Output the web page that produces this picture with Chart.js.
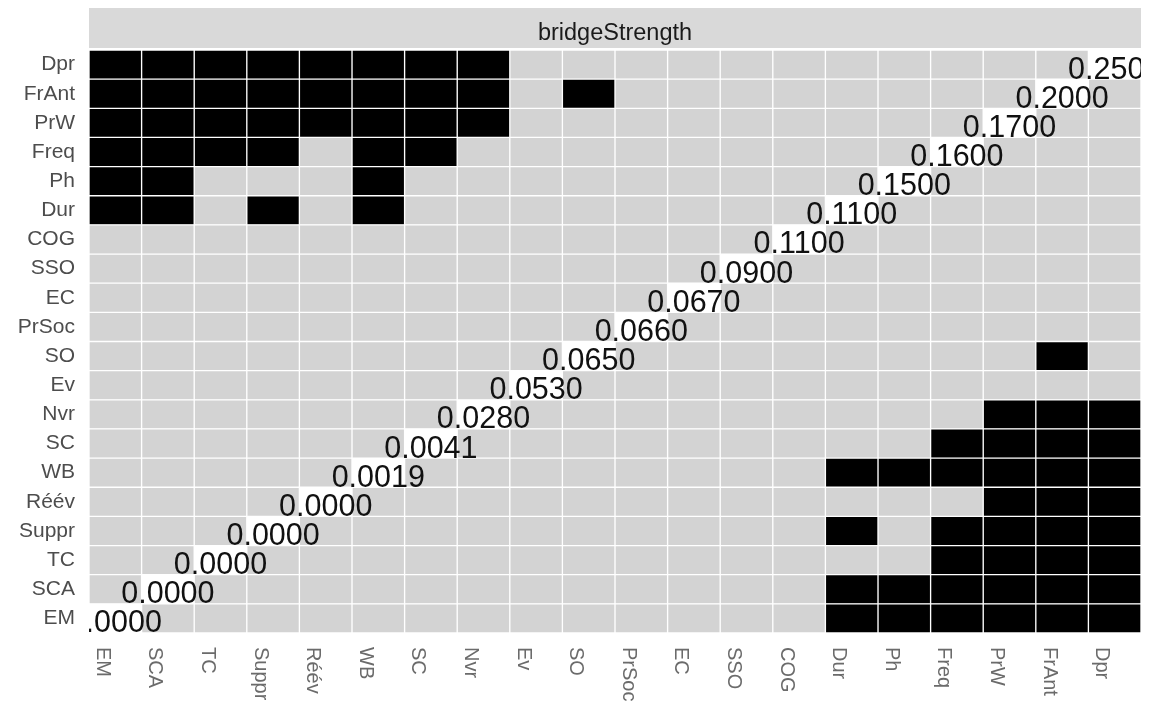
<!DOCTYPE html>
<html>
<head>
<meta charset="utf-8">
<script src="https://cdn.jsdelivr.net/npm/chart.js@4/dist/chart.umd.min.js"></script>
<style>
  html, body { margin: 0; padding: 0; background: #fff; }
  #wrap { width: 1154px; height: 704px; }
</style>
</head>
<body>
<div id="wrap"><canvas id="c" width="1154" height="704"></canvas></div>
<script>
// rows top -> bottom, columns left -> right
const rowNames = ['Dpr', 'FrAnt', 'PrW', 'Freq', 'Ph', 'Dur', 'COG', 'SSO', 'EC', 'PrSoc',
                  'SO', 'Ev', 'Nvr', 'SC', 'WB', 'Réév', 'Suppr', 'TC', 'SCA', 'EM'];
const colNames = ['EM', 'SCA', 'TC', 'Suppr', 'Réév', 'WB', 'SC', 'Nvr', 'Ev', 'SO',
                  'PrSoc', 'EC', 'SSO', 'COG', 'Dur', 'Ph', 'Freq', 'PrW', 'FrAnt', 'Dpr'];

// bridge strength per node (in column order)
const bridgeValues = ['0.0000', '0.0000', '0.0000', '0.0000', '0.0000', '0.0019', '0.0041', '0.0280', '0.0530', '0.0650',
                      '0.0660', '0.0670', '0.0900', '0.1100', '0.1100', '0.1500', '0.1600', '0.1700', '0.2000', '0.2500'];

// 1 = significant difference (black cell)
const diffMatrix = [
  [1,1,1,1,1,1,1,1,0,0,0,0,0,0,0,0,0,0,0,0], // Dpr
  [1,1,1,1,1,1,1,1,0,1,0,0,0,0,0,0,0,0,0,0], // FrAnt
  [1,1,1,1,1,1,1,1,0,0,0,0,0,0,0,0,0,0,0,0], // PrW
  [1,1,1,1,0,1,1,0,0,0,0,0,0,0,0,0,0,0,0,0], // Freq
  [1,1,0,0,0,1,0,0,0,0,0,0,0,0,0,0,0,0,0,0], // Ph
  [1,1,0,1,0,1,0,0,0,0,0,0,0,0,0,0,0,0,0,0], // Dur
  [0,0,0,0,0,0,0,0,0,0,0,0,0,0,0,0,0,0,0,0], // COG
  [0,0,0,0,0,0,0,0,0,0,0,0,0,0,0,0,0,0,0,0], // SSO
  [0,0,0,0,0,0,0,0,0,0,0,0,0,0,0,0,0,0,0,0], // EC
  [0,0,0,0,0,0,0,0,0,0,0,0,0,0,0,0,0,0,0,0], // PrSoc
  [0,0,0,0,0,0,0,0,0,0,0,0,0,0,0,0,0,0,1,0], // SO
  [0,0,0,0,0,0,0,0,0,0,0,0,0,0,0,0,0,0,0,0], // Ev
  [0,0,0,0,0,0,0,0,0,0,0,0,0,0,0,0,0,1,1,1], // Nvr
  [0,0,0,0,0,0,0,0,0,0,0,0,0,0,0,0,1,1,1,1], // SC
  [0,0,0,0,0,0,0,0,0,0,0,0,0,0,1,1,1,1,1,1], // WB
  [0,0,0,0,0,0,0,0,0,0,0,0,0,0,0,0,0,1,1,1], // Réév
  [0,0,0,0,0,0,0,0,0,0,0,0,0,0,1,0,1,1,1,1], // Suppr
  [0,0,0,0,0,0,0,0,0,0,0,0,0,0,0,0,1,1,1,1], // TC
  [0,0,0,0,0,0,0,0,0,0,0,0,0,0,1,1,1,1,1,1], // SCA
  [0,0,0,0,0,0,0,0,0,0,0,0,0,0,1,1,1,1,1,1]  // EM
];

const stripTitle = 'bridgeStrength';
const FONT = "'Liberation Sans', Arial, sans-serif";

function cellColor(r, c) {
  if (rowNames[r] === colNames[c]) return '#ffffff';
  return diffMatrix[r][c] ? '#000000' : '#d3d3d3';
}

// one floating-bar dataset per column
const datasets = colNames.map((name, c) => ({
  label: name,
  data: rowNames.map(() => [c, c + 1]),
  backgroundColor: rowNames.map((_, r) => cellColor(r, c)),
  borderColor: '#ffffff',
  borderWidth: 1,
  borderSkipped: false,
  grouped: false,
  barPercentage: 1,
  categoryPercentage: 1
}));

const extras = {
  id: 'extras',
  afterDraw(chart) {
    const ctx = chart.ctx;
    const area = chart.chartArea;
    const xs = chart.scales.x;
    const ys = chart.scales.y;
    ctx.save();

    // facet strip
    ctx.fillStyle = '#d9d9d9';
    ctx.fillRect(area.left, 8, area.right - area.left, 40);
    ctx.fillStyle = '#1a1a1a';
    ctx.font = '23.5px ' + FONT;
    ctx.textAlign = 'center';
    ctx.textBaseline = 'alphabetic';
    ctx.fillText(stripTitle, (area.left + area.right) / 2, 40);

    // column labels, rotated to read downward
    ctx.fillStyle = '#6b6b6b';
    ctx.font = '20px ' + FONT;
    colNames.forEach((name, c) => {
      const x = xs.getPixelForValue(c + 0.5) - 13;
      ctx.save();
      ctx.translate(x, 647);
      ctx.rotate(Math.PI / 2);
      ctx.textAlign = 'left';
      ctx.textBaseline = 'middle';
      ctx.fillText(name, 0, 0);
      ctx.restore();
    });

    // diagonal values, clipped to the panel
    ctx.beginPath();
    ctx.rect(area.left, 0, area.right - area.left, chart.height);
    ctx.clip();
    ctx.fillStyle = '#111111';
    ctx.font = '30.5px ' + FONT;
    ctx.textAlign = 'center';
    ctx.textBaseline = 'alphabetic';
    colNames.forEach((name, c) => {
      const r = rowNames.indexOf(name);
      const x = xs.getPixelForValue(c + 0.5);
      const y = ys.getPixelForValue(r);
      ctx.fillText(bridgeValues[c], x, y + 14);
    });
    ctx.restore();
  }
};

new Chart(document.getElementById('c'), {
  type: 'bar',
  data: { labels: rowNames, datasets: datasets },
  options: {
    indexAxis: 'y',
    responsive: false,
    animation: false,
    devicePixelRatio: 1,
    layout: { padding: { top: 50, bottom: 71, right: 13, left: 0 } },
    plugins: { legend: { display: false }, tooltip: { enabled: false } },
    scales: {
      x: { type: 'linear', min: 0, max: 20, display: false },
      y: {
        type: 'category',
        offset: true,
        grid: { display: false, drawTicks: false },
        border: { display: false },
        ticks: { color: '#4d4d4d', padding: 14, font: { family: FONT, size: 21 } },
        afterFit(scale) { scale.width = 89; }
      }
    }
  },
  plugins: [extras]
});
</script>
</body>
</html>
